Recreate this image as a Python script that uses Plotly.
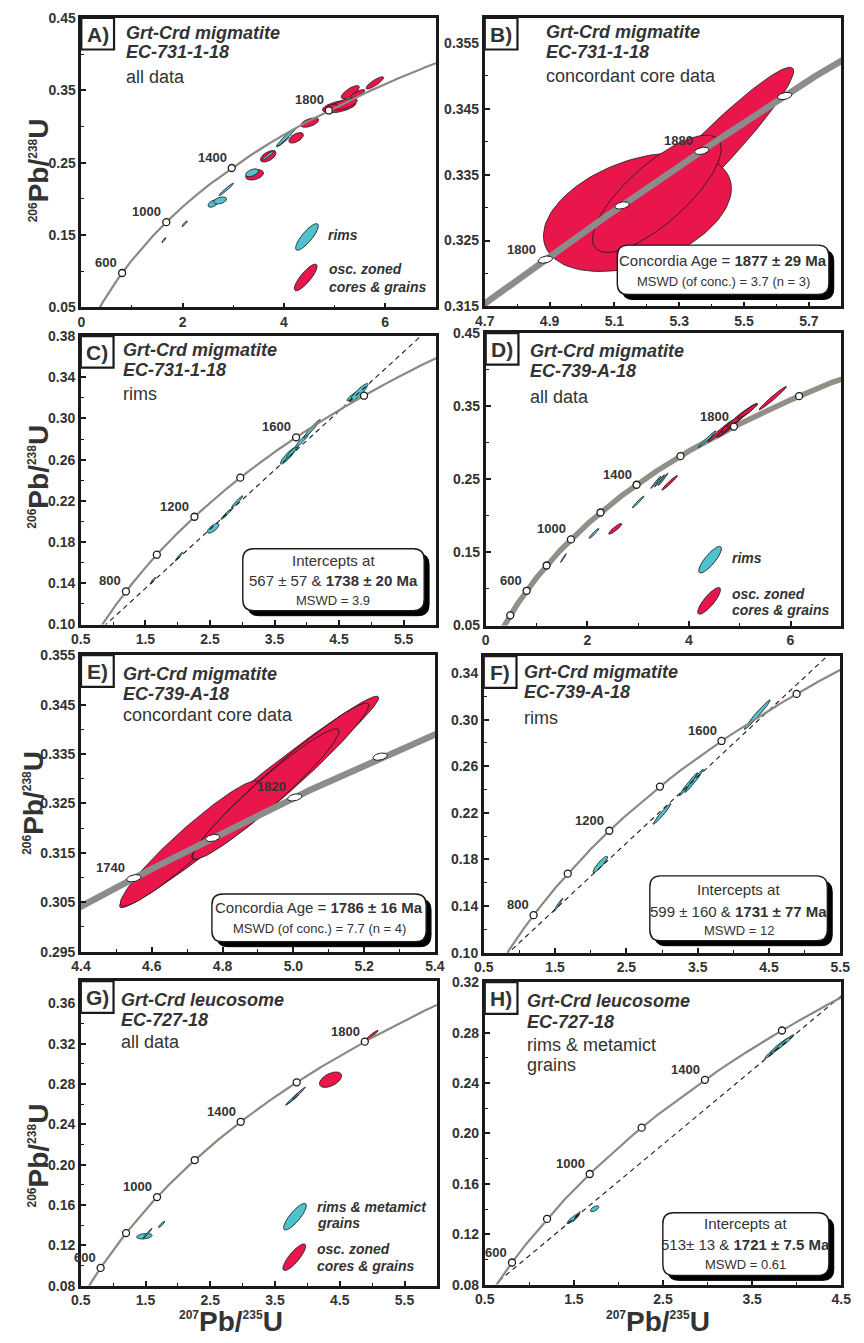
import numpy as np
import plotly.graph_objects as go

W, H = 864, 1343
LAMBDA_238 = 1.55125e-10
LAMBDA_235 = 9.8485e-10

# ---------------- data ----------------
# each analysis: (207Pb/235U, err, 206Pb/238U, err, rho)
A_CORES = [
    (3.42, 0.176, 0.2332, 0.0073, 0.35),
    (3.69, 0.154, 0.2587, 0.0080, 0.55),
    (4.24, 0.144, 0.2843, 0.0073, 0.55),
    (4.51, 0.177, 0.3054, 0.0066, 0.55),
    (5.09, 0.330, 0.3275, 0.0087, 0.50),
    (5.20, 0.250, 0.3310, 0.0080, 0.60),
    (4.93, 0.120, 0.3260, 0.0050, 0.60),
    (5.31, 0.180, 0.3474, 0.0091, 0.75),
    (5.45, 0.150, 0.3450, 0.0060, 0.80),
    (5.795, 0.176, 0.3603, 0.0085, 0.85),
]
A_RIMS = [
    (1.63, 0.040, 0.1430, 0.0035, 0.90),
    (2.04, 0.055, 0.1656, 0.0040, 0.90),
    (2.60, 0.100, 0.1935, 0.0052, 0.50),
    (2.74, 0.128, 0.1977, 0.0050, 0.40),
    (2.86, 0.145, 0.2130, 0.0087, 0.97),
    (3.37, 0.128, 0.2360, 0.0055, 0.50),
    (3.69, 0.130, 0.2600, 0.0070, 0.95),
    (3.98, 0.120, 0.2790, 0.0070, 0.95),
    (4.04, 0.190, 0.2849, 0.0125, 0.97),
]
B_CORES = [
    (5.360, 0.293, 0.3365, 0.0148, 0.96),
    (5.171, 0.290, 0.3293, 0.0090, 0.40),
    (5.231, 0.1985, 0.3321, 0.0089, 0.77),
]
C_RIMS = [
    (1.62, 0.040, 0.1429, 0.0030, 0.90),
    (2.02, 0.060, 0.1660, 0.0043, 0.95),
    (2.55, 0.090, 0.1935, 0.0048, 0.70),
    (2.75, 0.080, 0.2070, 0.0050, 0.95),
    (2.92, 0.090, 0.2190, 0.0060, 0.96),
    (3.71, 0.121, 0.2637, 0.0081, 0.90),
    (3.78, 0.100, 0.2680, 0.0070, 0.95),
    (3.93, 0.120, 0.2790, 0.0080, 0.96),
    (4.08, 0.130, 0.2900, 0.0090, 0.97),
    (4.72, 0.100, 0.3220, 0.0050, 0.90),
    (4.81, 0.140, 0.3252, 0.0088, 0.90),
]
D_RIMS = [
    (1.53, 0.058, 0.1424, 0.0061, 0.97),
    (2.13, 0.096, 0.1760, 0.0068, 0.95),
    (3.00, 0.115, 0.2190, 0.0080, 0.97),
    (3.35, 0.100, 0.2460, 0.0085, 0.98),
    (3.42, 0.100, 0.2480, 0.0085, 0.98),
    (3.49, 0.100, 0.2500, 0.0085, 0.98),
    (4.36, 0.175, 0.3050, 0.0113, 0.98),
]
D_CORES = [
    (2.55, 0.130, 0.1824, 0.0074, 0.90),
    (3.62, 0.155, 0.2452, 0.0101, 0.97),
    (4.62, 0.250, 0.3160, 0.0150, 0.98),
    (4.75, 0.200, 0.3190, 0.0120, 0.95),
    (4.85, 0.280, 0.3260, 0.0160, 0.97),
    (4.95, 0.320, 0.3320, 0.0180, 0.98),
    (5.05, 0.300, 0.3380, 0.0160, 0.97),
    (5.15, 0.200, 0.3430, 0.0100, 0.95),
    (5.65, 0.270, 0.3610, 0.0160, 0.98),
]
E_CORES = [
    (4.875, 0.366, 0.3253, 0.0214, 0.985),
    (4.707, 0.196, 0.3169, 0.0127, 0.95),
    (4.963, 0.250, 0.3295, 0.0158, 0.97),
    (4.922, 0.207, 0.3269, 0.0132, 0.96),
]
F_RIMS = [
    (1.545, 0.064, 0.1410, 0.0057, 0.97),
    (2.133, 0.103, 0.1757, 0.0071, 0.90),
    (3.000, 0.126, 0.2191, 0.0089, 0.97),
    (3.370, 0.130, 0.2445, 0.0100, 0.98),
    (3.450, 0.130, 0.2475, 0.0100, 0.98),
    (4.335, 0.183, 0.3043, 0.0127, 0.98),
]
G_RIMS = [
    (1.481, 0.120, 0.1290, 0.0028, 0.30),
    (1.530, 0.070, 0.1317, 0.0050, 0.97),
    (1.749, 0.050, 0.1408, 0.0031, 0.90),
    (3.760, 0.100, 0.2640, 0.0050, 0.98),
    (3.800, 0.120, 0.2670, 0.0070, 0.98),
    (3.870, 0.100, 0.2710, 0.0060, 0.98),
]
G_CORES = [
    (4.357, 0.172, 0.2843, 0.0077, 0.50),
    (4.997, 0.096, 0.3285, 0.0048, 0.95),
]
H_RIMS = [
    (1.494, 0.073, 0.1325, 0.0041, 0.90),
    (1.530, 0.040, 0.1340, 0.0040, 0.97),
    (1.732, 0.048, 0.1402, 0.0024, 0.60),
    (3.720, 0.080, 0.2640, 0.0045, 0.95),
    (3.820, 0.120, 0.2705, 0.0065, 0.97),
    (3.860, 0.110, 0.2720, 0.0065, 0.97),
]

# concordia age markers (Ma) and the labelled ones
A_AGES, A_LABELLED = [600, 1000, 1400, 1800], [600, 1000, 1400, 1800]
B_AGES, B_LABELLED = [1800, 1840, 1880, 1920], [1800, 1880]
C_AGES, C_LABELLED = [800, 1000, 1200, 1400, 1600, 1800], [800, 1200, 1600]
D_AGES, D_LABELLED = [400, 600, 800, 1000, 1200, 1400, 1600, 1800, 2000], [600, 1000, 1400, 1800]
E_AGES, E_LABELLED = [1740, 1780, 1820, 1860], [1740, 1820]
F_AGES, F_LABELLED = [800, 1000, 1200, 1400, 1600, 1800], [800, 1200, 1600]
G_AGES, G_LABELLED = [600, 800, 1000, 1200, 1400, 1600, 1800], [600, 1000, 1400, 1800]
H_AGES, H_LABELLED = [600, 800, 1000, 1200, 1400, 1600], [600, 1000, 1400]

# discordia intercept ages (Ma)
C_INTERCEPTS = (567, 1738)
F_INTERCEPTS = (599, 1731)
H_INTERCEPTS = (513, 1721)

SAMPLES = {
    'A': ('Grt-Crd migmatite', 'EC-731-1-18', ['all data']),
    'B': ('Grt-Crd migmatite', 'EC-731-1-18', ['concordant core data']),
    'C': ('Grt-Crd migmatite', 'EC-731-1-18', ['rims']),
    'D': ('Grt-Crd migmatite', 'EC-739-A-18', ['all data']),
    'E': ('Grt-Crd migmatite', 'EC-739-A-18', ['concordant core data']),
    'F': ('Grt-Crd migmatite', 'EC-739-A-18', ['rims']),
    'G': ('Grt-Crd leucosome', 'EC-727-18', ['all data']),
    'H': ('Grt-Crd leucosome', 'EC-727-18', ['rims & metamict', 'grains']),
}
RESULTS = {
    'B': ['Concordia Age = <b>1877 ± 29 Ma</b>', 'MSWD (of conc.) = 3.7 (n = 3)'],
    'C': ['Intercepts at', '567 ± 57 &amp; <b>1738 ± 20 Ma</b>', 'MSWD = 3.9'],
    'E': ['Concordia Age = <b>1786 ± 16 Ma</b>', 'MSWD (of conc.) = 7.7 (n = 4)'],
    'F': ['Intercepts at', '599 ± 160 &amp; <b>1731 ± 77 Ma</b>', 'MSWD = 12'],
    'H': ['Intercepts at', '513± 13 &amp; <b>1721 ± 7.5 Ma</b>', 'MSWD = 0.61'],
}
LEGEND_TEXT = {
    'A': (['rims'], ['osc. zoned', 'cores &amp; grains']),
    'D': (['rims'], ['osc. zoned', 'cores &amp; grains']),
    'G': (['rims &amp; metamict', 'grains'], ['osc. zoned', 'cores &amp; grains']),
}

# ---------------- styling / layout ----------------
CYAN = '#4fc3cd'
RED = '#e8164b'
EDGE = '#1a1a1a'
TXT = '#333333'
FONT = 'Liberation Sans, Arial, Helvetica, sans-serif'

PANELS = ['A', 'B', 'C', 'D', 'E', 'F', 'G', 'H']
FRAME = {  # left, right, top, bottom in px
    'A': (73, 436, 10, 303), 'B': (486, 851, 10, 302),
    'C': (72.5, 436, 332, 624), 'D': (487, 851, 329, 625),
    'E': (72.7, 435, 655, 955), 'F': (485, 850, 656, 956),
    'G': (72.5, 437, 985, 1293), 'H': (486, 851, 986, 1292),
}
XRANGE = {'A': (0, 7), 'B': (4.7, 5.8), 'C': (0.5, 6.0), 'D': (0, 7),
          'E': (4.4, 5.4), 'F': (0.5, 5.5), 'G': (0.5, 6.0), 'H': (0.5, 4.5)}
YRANGE = {'A': (0.05, 0.45), 'B': (0.315, 0.3588), 'C': (0.10, 0.38), 'D': (0.05, 0.45),
          'E': (0.295, 0.355), 'F': (0.10, 0.3545), 'G': (0.08, 0.382), 'H': (0.08, 0.32)}
XTICK = {'A': (0, 2, 1, '.0f'), 'B': (4.7, 0.2, 0.1, '.1f'), 'C': (0.5, 1, 0.5, '.1f'),
         'D': (0, 2, 1, '.0f'), 'E': (4.4, 0.2, 0.1, '.1f'), 'F': (0.5, 1, 0.5, '.1f'),
         'G': (0.5, 1, 0.5, '.1f'), 'H': (0.5, 1, 0.5, '.1f')}
YTICK = {'A': (0.05, 0.1, 0.05, '.2f'), 'B': (0.315, 0.01, 0.005, '.3f'),
         'C': (0.10, 0.04, 0.02, '.2f'), 'D': (0.05, 0.1, 0.05, '.2f'),
         'E': (0.295, 0.01, 0.005, '.3f'), 'F': (0.10, 0.04, 0.02, '.2f'),
         'G': (0.08, 0.04, 0.02, '.2f'), 'H': (0.08, 0.04, 0.02, '.2f')}

# concordia curve style per panel: (colour, width, drawn above ellipses)
CURVE = {'A': ('#8a8a80', 2.2, True), 'B': ('#8c8c8c', 6.5, True), 'C': ('#8a8a80', 2.2, True),
         'D': ('#909087', 5.5, False), 'E': ('#8c8c8c', 6.5, True), 'F': ('#8a8a80', 2.2, True),
         'G': ('#8a8a80', 2.2, True), 'H': ('#8a8a80', 2.2, True)}

ELLIPSES = {  # drawing order: list of (rows, colour)
    'A': [(A_CORES, RED), (A_RIMS, CYAN)],
    'B': [(B_CORES, RED)],
    'C': [(C_RIMS, CYAN)],
    'D': [(D_RIMS, CYAN), (D_CORES, RED)],
    'E': [(E_CORES, RED)],
    'F': [(F_RIMS, CYAN)],
    'G': [(G_RIMS, CYAN), (G_CORES, RED)],
    'H': [(H_RIMS, CYAN)],
}
AGES = {'A': (A_AGES, A_LABELLED), 'B': (B_AGES, B_LABELLED), 'C': (C_AGES, C_LABELLED),
        'D': (D_AGES, D_LABELLED), 'E': (E_AGES, E_LABELLED), 'F': (F_AGES, F_LABELLED),
        'G': (G_AGES, G_LABELLED), 'H': (H_AGES, H_LABELLED)}
INTERCEPTS = {'C': C_INTERCEPTS, 'F': F_INTERCEPTS, 'H': H_INTERCEPTS}

TITLE_POS = {'A': (117, [25, 45, 70]), 'B': (547, [24, 44.3, 69]),
             'C': (114, [345.7, 366.7, 390.7]), 'D': (530, [346.7, 367.3, 393.3]),
             'E': (114, [674, 694, 716]), 'F': (524.3, [672.3, 692.7, 718.3]),
             'G': (111.7, [1004, 1024.3, 1046.7]), 'H': (527.7, [1005, 1026, 1050, 1070])}
RESULT_BOX = {  # x0, y0, x1, y1 and line centres
    'B': ((621.7, 240, 838.3, 290), [256, 276.3]),
    'C': ((238.3, 547.3, 424, 610), [559, 579.3, 600]),
    'E': ((206.7, 896.7, 426, 945), [910.7, 931.7]),
    'F': ((655, 878.3, 836.7, 944), [892.3, 914, 934]),
    'H': ((668.3, 1219.3, 838.3, 1282.7), [1230, 1251.7, 1271.7]),
}
LEGEND_POS = {  # symbol centre for each entry, text left, text line centres
    'A': [((304, 231.7), 323, [230]), ((302.7, 272.7), 324, [264.3, 282])],
    'D': [((716.7, 558.3), 737, [557]), ((715.7, 600), 737.3, [592.7, 609.3])],
    'G': [((291.7, 1223.3), 312.3, [1213.3, 1230]), ((291, 1264.3), 312.3, [1256, 1273.3])],
}
Y_TITLE_POS = {'A': (29, 164), 'C': (29, 474), 'E': (24, 804), 'G': (29, 1161)}
X_TITLE_POS = {'G': (226.7, 1329), 'H': (663.3, 1329)}


def PX(x):
    return x / W


def PY(y):
    return 1 - y / H


def conc(t_ma):
    t = np.asarray(t_ma, float) * 1e6
    return np.exp(LAMBDA_235 * t) - 1, np.exp(LAMBDA_238 * t) - 1


def ellipse(x, sx, y, sy, rho, n=120):
    t = np.linspace(0, 2 * np.pi, n)
    return (x + sx * np.cos(t),
            y + sy * (rho * np.cos(t) + np.sqrt(1 - rho ** 2) * np.sin(t)))


def px_per_unit(key):
    l, r, t, b = FRAME[key]
    return (r - l) / (XRANGE[key][1] - XRANGE[key][0]), (b - t) / (YRANGE[key][1] - YRANGE[key][0])


def rrect_path(x0, y0, x1, y1, r):
    def p(x, y):
        return f'{PX(x):.5f},{PY(y):.5f}'
    return (f'M {p(x0 + r, y0)} L {p(x1 - r, y0)} Q {p(x1, y0)} {p(x1, y0 + r)} '
            f'L {p(x1, y1 - r)} Q {p(x1, y1)} {p(x1 - r, y1)} L {p(x0 + r, y1)} '
            f'Q {p(x0, y1)} {p(x0, y1 - r)} L {p(x0, y0 + r)} Q {p(x0, y0)} {p(x0 + r, y0)} Z')


def tilted_path(cx, cy, a, b, ang_deg, n=60):
    th = np.radians(ang_deg)
    t = np.linspace(0, 2 * np.pi, n, endpoint=False)
    xs = cx + a * np.cos(t) * np.cos(th) - b * np.sin(t) * np.sin(th)
    ys = cy - (a * np.cos(t) * np.sin(th) + b * np.sin(t) * np.cos(th))
    pts = [f'{PX(x):.5f},{PY(y):.5f}' for x, y in zip(xs, ys)]
    return 'M ' + ' L '.join(pts) + ' Z'


fig = go.Figure()
shapes, annotations, axes = [], [], {}

for i, key in enumerate(PANELS, start=1):
    s = '' if i == 1 else str(i)
    xa, ya = 'x' + s, 'y' + s
    l, r, t, b = FRAME[key]
    common = dict(showline=True, mirror=True, linecolor=EDGE, linewidth=2.6,
                  ticks='inside', ticklen=5, tickwidth=1.5, tickcolor=EDGE,
                  showgrid=False, zeroline=False, fixedrange=True,
                  tickfont=dict(family=FONT, size=14, color=TXT, weight='bold'))
    x0, xd, xm, xf = XTICK[key]
    y0, yd, ym, yf = YTICK[key]
    axes['xaxis' + s] = dict(common, domain=[PX(l), PX(r)], range=list(XRANGE[key]), anchor=ya,
                             tick0=x0, dtick=xd, tickformat=xf,
                             minor=dict(ticks='inside', ticklen=3, tickwidth=1.2, tickcolor=EDGE,
                                        tick0=x0, dtick=xm))
    axes['yaxis' + s] = dict(common, domain=[PY(b), PY(t)], range=list(YRANGE[key]), anchor=xa,
                             tick0=y0, dtick=yd, tickformat=yf,
                             minor=dict(ticks='inside', ticklen=3, tickwidth=1.2, tickcolor=EDGE,
                                        tick0=y0, dtick=ym))

    # concordia curve
    tt = np.linspace(1, 4000, 8000)
    cx, cy = conc(tt)
    ccol, cw, on_top = CURVE[key]
    curve = go.Scatter(x=cx, y=cy, mode='lines', line=dict(color=ccol, width=cw),
                       xaxis=xa, yaxis=ya, hoverinfo='skip', showlegend=False)
    if not on_top:
        fig.add_trace(curve)

    # error ellipses
    for rows, col in ELLIPSES[key]:
        for row in rows:
            ex, ey = ellipse(*row)
            fig.add_trace(go.Scatter(x=ex, y=ey, mode='lines', fill='toself', fillcolor=col,
                                     line=dict(color=EDGE, width=0.8), xaxis=xa, yaxis=ya,
                                     hoverinfo='skip', showlegend=False))

    # discordia
    if key in INTERCEPTS:
        (lx, ly), (ux, uy) = [conc(a) for a in INTERCEPTS[key]]
        slope = (uy - ly) / (ux - lx)
        dx = np.array([lx, XRANGE[key][1] + 0.5])
        fig.add_trace(go.Scatter(x=dx, y=ly + slope * (dx - lx), mode='lines',
                                 line=dict(color=EDGE, width=1.1, dash='5px,4px'),
                                 xaxis=xa, yaxis=ya, hoverinfo='skip', showlegend=False))

    if on_top:
        fig.add_trace(curve)

    # age markers
    ages, labelled = AGES[key]
    mx, my = conc(ages)
    if key in ('B', 'E'):
        kx, ky = px_per_unit(key)
        th = np.radians(12)
        tp = np.linspace(0, 2 * np.pi, 50)
        for ax_, ay_ in zip(mx, my):
            px_ = 7.5 * np.cos(tp) * np.cos(th) - 3.4 * np.sin(tp) * np.sin(th)
            py_ = 7.5 * np.cos(tp) * np.sin(th) + 3.4 * np.sin(tp) * np.cos(th)
            fig.add_trace(go.Scatter(x=ax_ + px_ / kx, y=ay_ + py_ / ky, mode='lines',
                                     fill='toself', fillcolor='white',
                                     line=dict(color=EDGE, width=1.0), xaxis=xa, yaxis=ya,
                                     hoverinfo='skip', showlegend=False))
        xshift, yshift = -7, 1
    else:
        fig.add_trace(go.Scatter(x=mx, y=my, mode='markers',
                                 marker=dict(size=7, color='white', line=dict(color=EDGE, width=1.3)),
                                 xaxis=xa, yaxis=ya, hoverinfo='skip', showlegend=False))
        xshift, yshift = -3, 1
    lx_, ly_ = conc(labelled)
    for age, ax_, ay_ in zip(labelled, lx_, ly_):
        annotations.append(dict(x=ax_, y=ay_, xref=xa, yref=ya, text=f'<b>{age}</b>',
                                showarrow=False, xanchor='right', yanchor='bottom',
                                xshift=xshift, yshift=yshift,
                                font=dict(family=FONT, size=13, color=TXT)))

    # panel letter box
    shapes.append(dict(type='rect', xref='paper', yref='paper', x0=PX(l), x1=PX(l + 33.5),
                       y0=PY(t + 32), y1=PY(t), fillcolor='white',
                       line=dict(color=EDGE, width=2.2), layer='above'))
    annotations.append(dict(x=PX(l + 17), y=PY(t + 16.5), xref='paper', yref='paper',
                            text=f'<b>{key})</b>', showarrow=False, xanchor='center',
                            yanchor='middle', font=dict(family=FONT, size=21, color=TXT)))

    # sample title
    tx, tys = TITLE_POS[key]
    name, code, extra = SAMPLES[key]
    lines = [f'<b><i>{name}</i></b>', f'<b><i>{code}</i></b>'] + extra
    for txt, yy in zip(lines, tys):
        annotations.append(dict(x=PX(tx), y=PY(yy), xref='paper', yref='paper', text=txt,
                                showarrow=False, xanchor='left', yanchor='middle',
                                font=dict(family=FONT, size=18, color=TXT)))

    # result box with shadow
    if key in RESULT_BOX:
        (bx0, by0, bx1, by1), lys = RESULT_BOX[key]
        shapes.append(dict(type='path', xref='paper', yref='paper',
                           path=rrect_path(bx0 + 5, by0 + 5, bx1 + 5, by1 + 5, 11),
                           fillcolor='black', line=dict(color='black', width=1), layer='above'))
        shapes.append(dict(type='path', xref='paper', yref='paper',
                           path=rrect_path(bx0, by0, bx1, by1, 11),
                           fillcolor='white', line=dict(color=EDGE, width=1.4), layer='above'))
        res = RESULTS[key]
        for j, (txt, yy) in enumerate(zip(res, lys)):
            size = 13 if txt.startswith('MSWD') else 15
            annotations.append(dict(x=PX((bx0 + bx1) / 2), y=PY(yy), xref='paper', yref='paper',
                                    text=txt, showarrow=False, xanchor='center', yanchor='middle',
                                    font=dict(family=FONT, size=size, color=TXT)))

    # legend
    if key in LEGEND_POS:
        for (centre, tx_left, tlines), col, words in zip(LEGEND_POS[key], [CYAN, RED],
                                                         LEGEND_TEXT[key]):
            shapes.append(dict(type='path', xref='paper', yref='paper',
                               path=tilted_path(centre[0], centre[1], 17, 5, 50),
                               fillcolor=col, line=dict(color=EDGE, width=0.9), layer='above'))
            for w, yy in zip(words, tlines):
                annotations.append(dict(x=PX(tx_left), y=PY(yy), xref='paper', yref='paper',
                                        text=f'<b><i>{w}</i></b>', showarrow=False,
                                        xanchor='left', yanchor='middle',
                                        font=dict(family=FONT, size=14, color=TXT)))

SUP = "<sup><span style='font-size:12px'>{}</span></sup>"
for key, (x, y) in Y_TITLE_POS.items():
    annotations.append(dict(x=PX(x), y=PY(y), xref='paper', yref='paper',
                            text='<b>' + SUP.format('206') + 'Pb/' + SUP.format('238') + 'U</b>',
                            textangle=-90, showarrow=False, xanchor='center', yanchor='middle',
                            font=dict(family=FONT, size=28, color=TXT)))
for key, (x, y) in X_TITLE_POS.items():
    annotations.append(dict(x=PX(x), y=PY(y), xref='paper', yref='paper',
                            text='<b>' + SUP.format('207') + 'Pb/' + SUP.format('235') + 'U</b>',
                            showarrow=False, xanchor='center', yanchor='middle',
                            font=dict(family=FONT, size=28, color=TXT)))

fig.update_layout(width=W, height=H, margin=dict(l=0, r=0, t=0, b=0),
                  paper_bgcolor='white', plot_bgcolor='white', showlegend=False,
                  shapes=shapes, annotations=annotations, **axes)
fig.write_html('out.html')
